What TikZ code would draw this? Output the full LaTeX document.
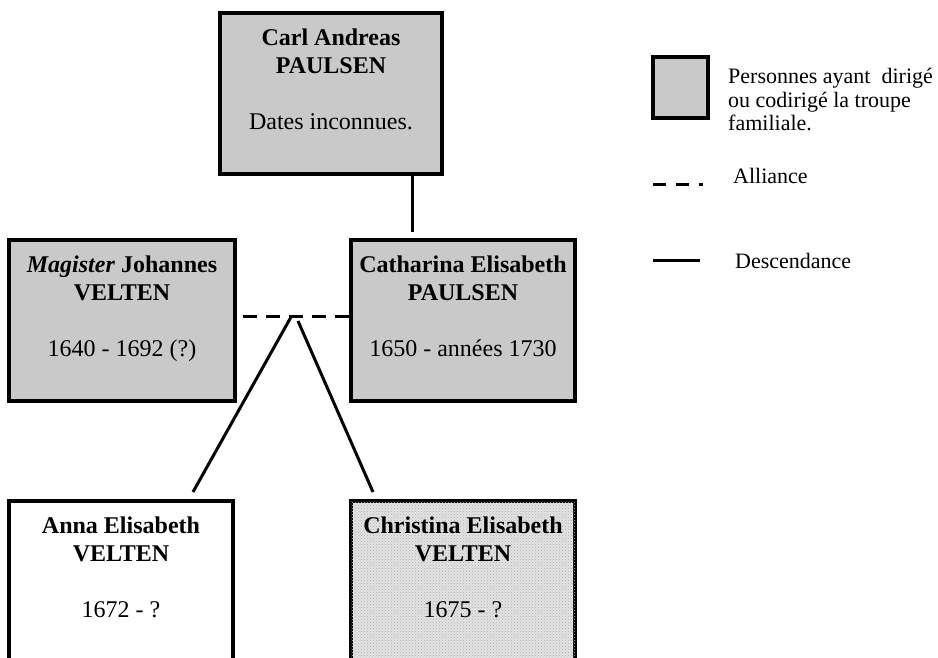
\documentclass[tikz,border=0pt]{standalone}
\usepackage{fontspec}
\setmainfont{Liberation Serif}
\usetikzlibrary{positioning,patterns}

\begin{document}
\begin{tikzpicture}[x=1pt, y=-1pt, every node/.style={font=\fontsize{24}{28}\selectfont},
	person/.style={draw, line width=3.5pt, minimum width=224pt, minimum height=161pt, inner sep=0pt},
	lead/.style={person, fill=black!21},
	stipple/.style={person, fill=black!11, postaction={pattern=crosshatch dots, pattern color=black!30}},
	txt/.style={align=center, inner sep=0pt},
	descent/.style={line width=3pt},
	alliance/.style={line width=3pt, dash pattern=on 14pt off 9pt},
	legtxt/.style={font=\fontsize{22}{23.5}\selectfont, align=left, inner sep=0pt, anchor=base west}]
	\clip (0,0) rectangle (938,657);
	% the family
	\node[lead, minimum width=222pt] (carl) at (331,93.5) {};
	\node[lead, minimum width=226pt] (johannes) at (122,320.5) {};
	\node[lead] (catharina) at (463,320.5) {};
	\node[person, fill=white] (anna) at (121,581.5) {};
	\node[stipple] (christina) at (463,581.5) {};
	\node[txt, below=17pt of carl.north] (carltxt) {\textbf{Carl Andreas}\\\textbf{PAULSEN}\\[28pt]Dates inconnues.};
	\node[txt, below=17pt of johannes.north] (johannestxt) {\textbf{\textit{Magister} Johannes}\\\textbf{VELTEN}\\[28pt]1640 - 1692 (?)};
	\node[txt, below=17pt of catharina.north] (catharinatxt) {\textbf{Catharina Elisabeth}\\\textbf{PAULSEN}\\[28pt]1650 - années 1730};
	\node[txt, below=17pt of anna.north] (annatxt) {\textbf{Anna Elisabeth}\\\textbf{VELTEN}\\[28pt]1672 - ?};
	\node[txt, below=17pt of christina.north] (christinatxt) {\textbf{Christina Elisabeth}\\\textbf{VELTEN}\\[28pt]1675 - ?};
	% links
	\coordinate (join) at (412,232);
	\coordinate (allyend) at (243,316);
	\coordinate (apexl) at (291,317);
	\coordinate (apexr) at (298,321);
	\coordinate (toanna) at (193,492);
	\coordinate (tochristina) at (373,492);
	\draw[descent] (carl.south -| join) -- (join);
	\draw[alliance] (allyend) -- (allyend -| catharina.west);
	\draw[descent] (apexl) -- (toanna);
	\draw[descent] (apexr) -- (tochristina);
	% legend
	\node[lead, minimum width=55pt, minimum height=61pt, line width=4pt] (legbox) at (680.5,87.5) {};
	\node[legtxt, anchor=north west] (legboxtxt) at (728,68) {Personnes ayant\ \ dirigé\\ou codirigé la troupe\\familiale.};
	\coordinate (legdash) at (653,184);
	\coordinate (legline) at (653,260);
	\draw[alliance, dash pattern=on 13pt off 10pt] (legdash) -- ++(50,0);
	\draw[descent] (legline) -- ++(47,0);
	\node[legtxt] (legally) at (733,183) {Alliance};
	\node[legtxt] (legdescent) at (735,268) {Descendance};
\end{tikzpicture}
\end{document}
